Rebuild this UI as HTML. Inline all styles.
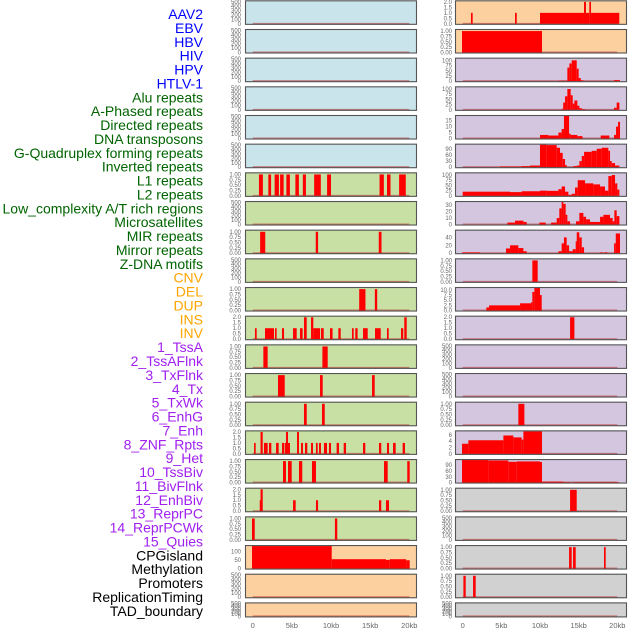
<!DOCTYPE html>
<html><head><meta charset="utf-8">
<style>
html,body{margin:0;padding:0;background:#fff;width:630px;height:630px;overflow:hidden}
svg{display:block}
.lbl{font-family:"Liberation Sans",sans-serif;font-size:14px}
.tk{font-family:"Liberation Sans",sans-serif;font-size:6px;fill:#666}
.xt{font-family:"Liberation Sans",sans-serif;font-size:7.5px;fill:#666}
</style></head>
<body>
<svg id="chart" width="630" height="630" viewBox="0 0 630 630"></svg>
<script>
const trackNames = ["AAV2","EBV","HBV","HIV","HPV","HTLV-1","Alu repeats","A-Phased repeats","Directed repeats","DNA transposons","G-Quadruplex forming repeats","Inverted repeats","L1 repeats","L2 repeats","Low_complexity A/T rich regions","Microsatellites","MIR repeats","Mirror repeats","Z-DNA motifs","CNV","DEL","DUP","INS","INV","1_TssA","2_TssAFlnk","3_TxFlnk","4_Tx","5_TxWk","6_EnhG","7_Enh","8_ZNF_Rpts","9_Het","10_TssBiv","11_BivFlnk","12_EnhBiv","13_ReprPC","14_ReprPCWk","15_Quies","CPGisland","Methylation","Promoters","ReplicationTiming","TAD_boundary"];
const trackGroups = ["v","v","v","v","v","v","r","r","r","r","r","r","r","r","r","r","r","r","r","s","s","s","s","s","c","c","c","c","c","c","c","c","c","c","c","c","c","c","c","o","o","o","o","o"];
const xTicks = [0,5,10,15,20];
const xTickLabels = ["0","5kb","10kb","15kb","20kb"];

// per-panel: group colour key, tick values, tick decimals, y max, segments [startKb,endKb,value]
const leftGroup = ["v","v","v","v","v","v","r","r","r","r","r","r","r","r","r","r","r","r","r","s","s","s"];
const rightGroup = ["s","s","c","c","c","c","c","c","c","c","c","c","c","c","c","c","c","o","o","o","o","o"];
const T500=[0,100,200,300,400,500], T1=[0,0.25,0.5,0.75,1], T2=[0,0.5,1,1.5,2], T100=[0,25,50,75,100];
const leftTicks = [T500,T500,T500,T500,T500,T500,T1,T500,T1,T500,T1,T2,T1,T1,T1,T2,T1,T2,T1,[0,50,100],T500,T500];
const leftDec   = [0,0,0,0,0,0,2,0,2,0,2,1,2,2,2,1,2,1,2,0,0,0];
const leftMax   = [510,510,510,510,510,510,1.05,510,1.05,510,1.05,2.05,1.05,1.05,1.05,2.05,1.05,2.05,1.05,130,510,510];
const rightTicks = [T2,T1,T100,T100,[0,5,10,15],[0,30,60,90],T100,[0,10,20,30],[0,20,40],T1,[0,2.5,5,7.5,10],T2,T500,T500,T1,[0,2,4,6],[0,30,60,90],T1,T500,T1,T1,T500];
const rightDec   = [1,2,0,0,0,0,0,0,0,2,1,1,0,0,2,0,0,2,0,2,2,0];
const rightMax   = [2.05,1.05,108,108,18.9,110,108,34.8,57,1.05,10.9,2.05,510,510,1.05,7.1,117,1.05,510,1.05,1.05,510];

const leftSegs = [
 [],[],[],[],[],[],
 [[0.8,1.3,1],[2.0,2.35,1],[2.8,3.35,1],[3.5,3.95,1],[4.3,4.75,1],[5.45,5.9,1],[6.4,6.8,1],[7.85,8.7,1],[9.5,10,1],[16.2,16.75,1],[17.15,17.6,1],[18.7,19.55,1]],
 [],
 [[0.95,1.6,1],[8.05,8.35,1],[16.1,16.45,1]],
 [],
 [[13.6,14.4,1],[15.6,15.9,1]],
 [[0.29,0.51,1],[1.57,2.72,1],[2.85,3.06,1],[3.74,4.0,1],[5.15,5.62,1],[6.04,6.38,1],[6.55,6.9,2],[7.45,7.74,2],[7.74,8.6,1],[8.72,9.07,1],[9.87,10.2,1],[10.94,11.24,1],[12.68,12.9,1],[13.1,13.4,1],[14.09,14.69,1],[15.62,16.35,1],[17.15,17.37,1],[18.94,19.23,1],[19.36,19.67,2]],
 [[1.36,1.91,1],[8.9,9.58,1]],
 [[3.23,4.09,1],[8.6,8.94,1],[15.24,15.58,1]],
 [[6.55,6.9,1],[8.85,9.2,1]],
 [[0.17,0.38,1],[1.0,1.28,2],[1.44,1.91,1],[2.08,2.38,1],[2.98,3.32,1],[3.74,4.0,1],[4.08,4.25,1],[4.25,4.51,2],[4.51,4.76,1],[5.66,5.91,2],[6.17,6.42,1],[6.68,6.97,1],[7.45,7.7,1],[8.08,8.3,1],[8.47,8.72,1],[9.1,9.49,1],[9.74,10.0,1],[10.72,11.02,1],[11.62,11.92,1],[14.09,14.38,1],[16.13,16.42,1],[17.15,17.41,1],[17.92,18.26,1],[19.15,19.45,1]],
 [[3.87,4.25,1],[4.51,4.98,1],[5.91,6.33,1],[7.57,8.08,1],[16.77,17.24,1],[19.74,20.05,1]],
 [[0.9,1.0,1],[1.0,1.28,2],[5.15,5.49,1],[8.08,8.35,1],[16.13,16.42,1],[17.02,17.41,1]],
 [[-0.09,0.26,1],[10.5,10.8,1]],
 [[-0.09,10.09,130],[10.09,17.02,54],[17.02,17.5,50],[17.5,19.6,54],[19.6,20.05,48]],
 [],[]
];
const rightSegs = [
 [[1.07,1.29,1],[6.77,6.99,1],[10.0,15.69,1],[15.69,15.95,2],[15.95,16.38,1],[16.38,16.6,2],[16.6,20.26,1]],
 [[-0.09,10.26,1]],
 [[12.46,13.54,2],[13.54,13.8,65],[13.8,14.1,85],[14.1,14.75,100],[14.75,15.0,60],[15.0,15.27,15],[15.27,15.6,4],[19.6,20.35,5]],
 [[12.8,13.0,5],[13.0,13.24,35],[13.24,13.54,65],[13.54,13.97,100],[13.97,14.23,70],[14.23,14.45,30],[14.45,14.83,45],[14.83,15.09,20],[15.09,15.4,8],[15.4,15.83,3],[19.58,19.92,10],[19.92,20.27,35]],
 [[10.0,11.08,3],[11.08,12.38,2.5],[12.38,12.8,5],[12.8,13.1,8],[13.1,13.76,19],[13.76,13.97,4],[13.97,14.83,3],[14.83,15.5,2],[17.85,18.97,2.5],[19.58,19.84,3],[19.84,20.1,10],[20.1,20.35,14]],
 [[4.83,7.63,3],[7.63,8.71,5],[8.71,10.0,8],[10.0,10.87,110],[10.87,12.16,108],[12.16,12.59,95],[12.59,12.94,70],[12.94,13.24,40],[13.24,13.45,10],[14.32,14.75,5],[14.75,15.1,8],[15.1,15.4,30],[15.4,15.7,55],[15.7,16.69,75],[16.69,17.34,80],[17.34,17.98,90],[17.98,18.84,95],[18.84,19.06,80],[19.06,19.28,30],[19.28,19.71,20],[19.71,20.27,8]],
 [[0,6.12,20],[6.12,7.63,18],[7.63,10.0,22],[10.0,10.87,25],[10.87,12.38,24],[12.38,12.8,32],[12.8,13.24,45],[13.24,13.67,20],[13.67,14.1,5],[14.1,14.53,10],[14.53,14.88,40],[14.88,15.83,75],[15.83,16.9,60],[16.9,17.77,55],[17.77,18.41,45],[18.41,18.84,25],[18.84,19.28,95],[19.28,19.71,100],[19.71,20.0,60],[20.0,20.27,30]],
 [[5.78,6.77,3],[6.77,7.85,6],[7.85,8.28,4],[9.92,10.74,3],[11.43,12.16,3],[12.16,12.5,10],[12.5,12.8,25],[12.8,13.02,35],[13.02,13.32,32],[13.32,13.54,15],[13.54,13.89,5],[14.66,15.09,5],[15.09,15.61,18],[15.61,15.96,12],[15.96,16.47,8],[16.47,17.77,4],[17.77,18.2,12],[18.2,19.06,15],[19.06,19.4,10],[19.4,19.62,5],[19.62,19.92,22],[19.92,20.27,13]],
 [[-0.09,2.24,2],[5.6,6.12,12],[6.12,7.2,20],[7.2,7.85,13],[7.85,8.28,5],[12.38,12.8,5],[12.8,13.1,25],[13.1,13.45,40],[13.45,13.76,20],[13.76,14.23,5],[14.23,14.62,10],[14.62,14.75,30],[14.75,15.09,53],[15.09,15.4,40],[15.4,15.7,15],[17.77,18.11,2],[18.3,18.72,2],[19.58,19.8,25],[19.8,20.35,50]],
 [[9.01,9.7,1]],
 [[3.06,3.41,1.5],[3.41,7.42,2.5],[7.42,8.84,3.5],[8.84,9.01,4],[9.01,9.27,9],[9.27,10.0,10.9],[10.0,10.22,7.5]],
 [[13.89,14.45,2]],
 [],[],
 [[7.2,7.98,1]],
 [[-0.09,0.73,3.2],[0.73,5.26,4.3],[5.26,6.55,5.8],[6.55,7.63,5.2],[7.63,7.85,4.5],[7.85,10.26,7.1]],
 [[-0.09,3.32,117],[3.32,5.9,115],[5.9,6.99,108],[6.99,10.0,110],[10.0,10.26,107],[10.26,13.02,5],[13.02,13.89,2],[14.23,20.27,2]],
 [[13.89,14.75,1]],
 [],
 [[13.76,14.1,1],[14.27,14.62,1],[18.28,18.5,1]],
 [[0.09,0.39,1],[1.34,1.68,1]],
 []
];

const NS="http://www.w3.org/2000/svg";
const svg=document.getElementById("chart");
const groupBg={v:"#c9e4eb",r:"#c9e0a5",s:"#fdd19f",c:"#d5c6e0",o:"#d1d1d1"};
const groupText={v:"#0000ff",r:"#006400",s:"#ffa500",c:"#a020f0",o:"#000000"};
function mk(tag,attrs){const e=document.createElementNS(NS,tag);for(const k in attrs)e.setAttribute(k,attrs[k]);svg.appendChild(e);return e;}

// labels
trackNames.forEach((n,i)=>{
  const t=mk("text",{x:203,y:14+13.88*i+5,"text-anchor":"end",class:"lbl",fill:groupText[trackGroups[i]]});
  t.textContent=n;
  
  
});

const cols=[
 {x0:245,x1:417,z:252.7,s:7.83,tx:241,group:leftGroup,ticks:leftTicks,dec:leftDec,max:leftMax,segs:leftSegs,side:'left'},
 {x0:455,x1:627,z:462.7,s:7.73,tx:452,group:rightGroup,ticks:rightTicks,dec:rightDec,max:rightMax,segs:rightSegs,side:'right'}
];
cols.forEach(c=>{
  const xs=kb=>c.z+kb*c.s;
  for(let r=0;r<22;r++){
    const top=0.33+28.67*r;
    const h=(r===21)?15:24.5;
    const bot=top+h;
    const ys=v=>bot-1-v/c.max[r]*(h-2);
    const g=c.group[r];
    const bg=mk("rect",{x:c.x0,y:top,width:c.x1-c.x0,height:h,fill:groupBg[g]});
    
    
    // baseline
    const bl=mk("line",{x1:xs(0),x2:xs(20),y1:bot-1.2,y2:bot-1.2,stroke:"rgba(190,40,40,0.55)","stroke-width":1.6});
    
    
    c.segs[r].forEach((s,k)=>{
      const y=ys(s[2]);
      const b=mk("rect",{x:xs(s[0]),y:Math.max(top,y),width:Math.max(1.2,xs(s[1])-xs(s[0])),height:bot-1-Math.max(top,y),fill:"#ff0000"});
      
      
    });
    const fr=mk("rect",{x:c.x0+0.5,y:top+0.5,width:c.x1-c.x0-1,height:h-1,fill:"none",stroke:"#555","stroke-width":1.1});
    
    
    c.ticks[r].forEach(v=>{
      const t=mk("text",{x:c.tx,y:ys(v)+2,"text-anchor":"end",class:"tk"});
      t.textContent=v.toFixed(c.dec[r]);
      
      
    });
  }
  xTicks.forEach((v,i)=>{
    const t=mk("text",{x:xs(v),y:628,"text-anchor":"middle",class:"xt"});
    t.textContent=xTickLabels[i];
    
    
  });
});
</script>
</body></html>
